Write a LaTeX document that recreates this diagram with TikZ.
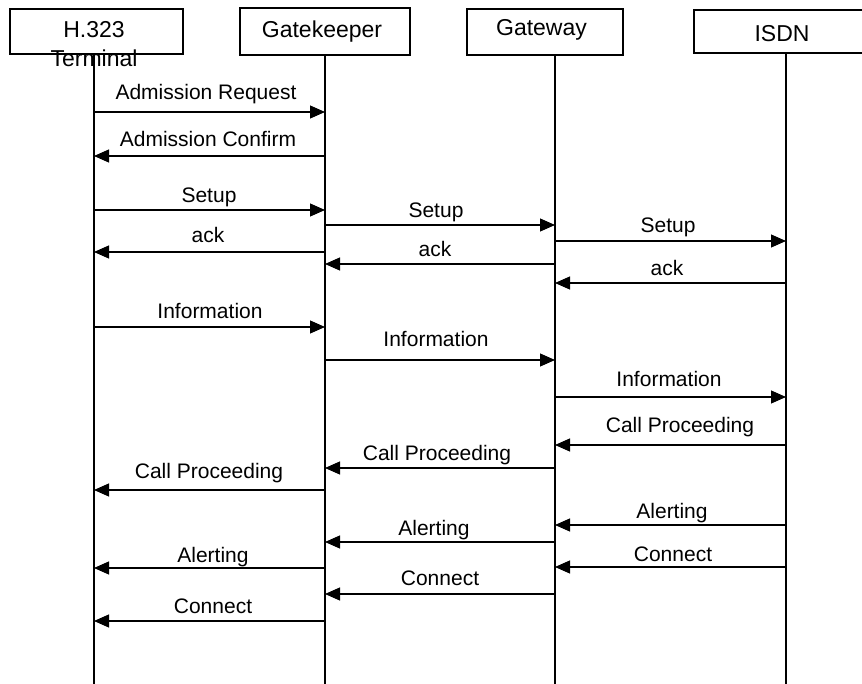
\documentclass[tikz,border=0pt]{standalone}
\usepackage{fontspec}
\setmainfont{Liberation Sans}
\usetikzlibrary{arrows.meta}
\begin{document}
\begin{tikzpicture}[x=1pt,y=-1pt,
  box/.style={draw,line width=1.1pt,inner sep=0pt},
  boxtext/.style={anchor=base,inner sep=0pt,font=\fontsize{23}{28}\selectfont},
  life/.style={line width=1.1pt},
  msg/.style={line width=1.1pt,-{Triangle[length=15pt,width=13pt]}},
  lbl/.style={anchor=base,inner sep=0pt,font=\fontsize{21}{25}\selectfont}]
\useasboundingbox (0,0) rectangle (862,684);
% boxes
\node[box,minimum width=173pt,minimum height=45pt] (term) at (96.5,31.5) {};
\node[box,minimum width=170pt,minimum height=47pt] (gk) at (325,31.5) {};
\node[box,minimum width=156pt,minimum height=46pt] (gw) at (545,32) {};
\node[box,minimum width=169.5pt,minimum height=43pt] (isdn) at (778.75,31.5) {};
% box texts
\node[boxtext] (termA) at (94,38) {H.323};
\node[boxtext] (termB) at (94,67) {Terminal};
\node[boxtext] (gkT) at (322,38) {Gatekeeper};
\node[boxtext] (gwT) at (541.5,36) {Gateway};
\node[boxtext] (isdnT) at (782,42) {ISDN};
% lifelines
\coordinate (lt) at (94,54);
\coordinate (lk) at (325,55);
\coordinate (lg) at (555,55);
\coordinate (li) at (786,53);
\coordinate (lte) at (94,684);
\coordinate (lke) at (325,684);
\coordinate (lge) at (555,684);
\coordinate (lie) at (786,684);
\draw[life] (lt) -- (lte);
\draw[life] (lk) -- (lke);
\draw[life] (lg) -- (lge);
\draw[life] (li) -- (lie);
% messages
\foreach \a/\b/\y/\lx/\ly/\t [count=\i] in {
  lt/lk/112/206/100/Admission Request,
  lk/lt/156/208/147/Admission Confirm,
  lt/lk/210/209/203/Setup,
  lk/lg/225/436/218/Setup,
  lg/li/241/668/233/Setup,
  lk/lt/252/208/243/ack,
  lg/lk/264/435/257/ack,
  li/lg/283/667/276/ack,
  lt/lk/327/210/319/Information,
  lk/lg/360/436/347/Information,
  lg/li/397/669/387/Information,
  li/lg/445/680/432/Call Proceeding,
  lg/lk/468/437/460/Call Proceeding,
  lk/lt/490/209/478/Call Proceeding,
  li/lg/525/672/518/Alerting,
  lg/lk/542/434/535/Alerting,
  lk/lt/568/213/562/Alerting,
  li/lg/567/673/561/Connect,
  lg/lk/594/440/585/Connect,
  lk/lt/621/213/613/Connect}
{
  \draw[msg] (\a |- 0,\y) -- (\b |- 0,\y);
  \node[lbl] (m\i) at (\lx,\ly) {\t};
}
\end{tikzpicture}
\end{document}
